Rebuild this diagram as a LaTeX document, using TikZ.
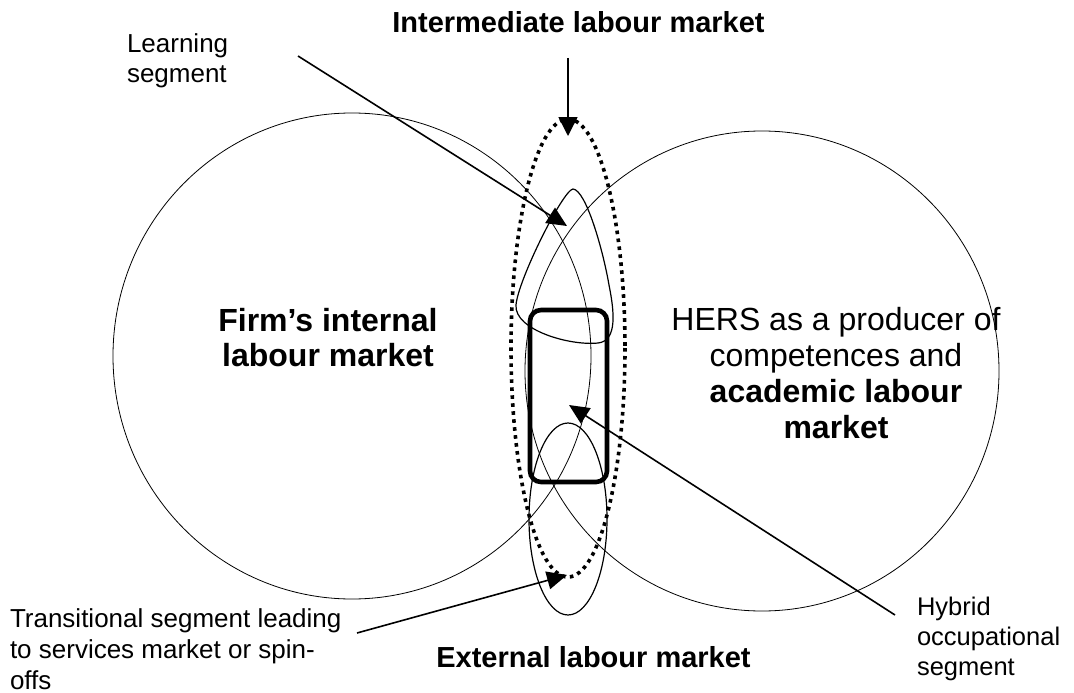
\documentclass[tikz,border=0pt]{standalone}
\usepackage{fontspec}
\setmainfont{Liberation Sans}
\usetikzlibrary{arrows.meta}
\begin{document}
\begin{tikzpicture}[x=1pt,y=-1pt,
  thinline/.style={line width=0.8pt},
  loopline/.style={line width=1.2pt},
  dotline/.style={line width=3.6pt, dash pattern=on 3.6pt off 4.4pt},
  frame/.style={line width=4.6pt, rounded corners=11pt},
  pointer/.style={line width=1.6pt, -{Triangle[length=20pt,width=18pt]}},
  lbl/.style={inner sep=0pt, outer sep=0pt},
]
\useasboundingbox (0,0) rectangle (1074,693);
% the two big circles
\draw[thinline] (352,356) ellipse [x radius=239, y radius=243];
\draw[thinline] (762,371) ellipse [x radius=237, y radius=240];
% intermediate market (dotted)
\draw[dotline] (568,348) ellipse [x radius=57, y radius=229];
% learning segment loop
\draw[loopline] (573,189) .. controls (563,190) and (518,280) .. (516,305)
  .. controls (514,330) and (570,346) .. (598,343)
  .. controls (618,341) and (614,310) .. (609,285)
  .. controls (603,250) and (586,190) .. (573,189) -- cycle;
% transitional segment loop
\draw[loopline] (568,519) ellipse [x radius=39, y radius=96];
% hybrid occupational segment
\draw[frame] (530,310) rectangle (607,482);
% labels
\node[lbl, anchor=base, font=\fontsize{29}{33}\selectfont\bfseries] (interlbl) at (578.5,33) {Intermediate labour market};
\node[lbl, anchor=base, font=\fontsize{29}{33}\selectfont\bfseries] (extlbl) at (593.5,667) {External labour market};
\node[lbl, anchor=base west, font=\fontsize{26}{29}\selectfont] (learnlbl) at (127,53)
  {\begin{tabular}[t]{@{}l@{}}Learning\\segment\end{tabular}};
\node[lbl, anchor=base, font=\fontsize{32}{35}\selectfont\bfseries] (firmlbl) at (328,331)
  {\begin{tabular}[t]{@{}c@{}}Firm’s internal\\labour market\end{tabular}};
\node[lbl, anchor=base, font=\fontsize{32}{36}\selectfont] (herslbl) at (836,330)
  {\begin{tabular}[t]{@{}c@{}}HERS as a producer of\\competences and\\\textbf{academic labour}\\\textbf{market}\end{tabular}};
\node[lbl, anchor=base west, font=\fontsize{26}{31}\selectfont] (translbl) at (10,627)
  {\begin{tabular}[t]{@{}l@{}}Transitional segment leading\\to services market or spin-\\offs\end{tabular}};
\node[lbl, anchor=base west, font=\fontsize{25.5}{30}\selectfont] (hyblbl) at (917,615)
  {\begin{tabular}[t]{@{}l@{}}Hybrid\\occupational\\segment\end{tabular}};
% pointers
\coordinate (interfrom) at (568,58);
\coordinate (interto) at (568,136);
\coordinate (learnfrom) at (298,56);
\coordinate (learnto) at (567,226);
\coordinate (hybfrom) at (895,615);
\coordinate (hybto) at (569,405);
\coordinate (transfrom) at (357,633);
\coordinate (transto) at (567,575);
\draw[line width=1.6pt, -{Triangle[length=19pt,width=19pt]}] (interfrom) -- (interto);
\draw[pointer] (learnfrom) -- (learnto);
\draw[pointer] (hybfrom) -- (hybto);
\draw[pointer] (transfrom) -- (transto);
\end{tikzpicture}
\end{document}
